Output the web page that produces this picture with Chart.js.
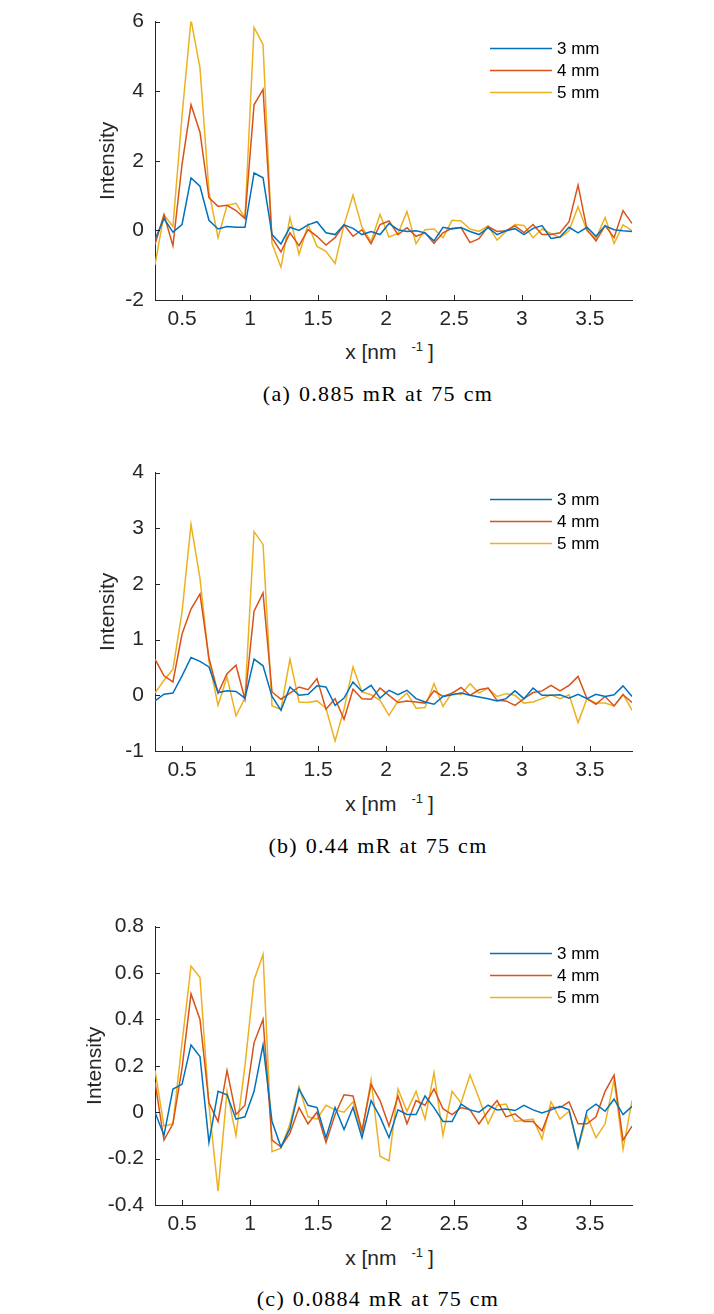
<!DOCTYPE html>
<html>
<head>
<meta charset="utf-8">
<title>Intensity vs x</title>
<script src="https://cdn.jsdelivr.net/npm/chart.js@4.4.1/dist/chart.umd.min.js"></script>
<style>
  html, body { margin: 0; padding: 0; background: #fff; }
  #page { position: relative; width: 714px; height: 1314px; overflow: hidden; }
  .panel { position: absolute; left: 0; width: 714px; height: 330px; }
  .xlab { position: absolute; left: 151px; width: 477px; height: 24px; line-height: 24px; text-align: center;
          font-size: 21px; font-family: "Liberation Sans", Arial, sans-serif; color: #262626; white-space: nowrap; }
  .xlab sup { font-size: 13px; vertical-align: 8px; margin-left: 15px; margin-right: 5px; line-height: 0; }
  .cap { position: absolute; left: 0; width: 756px; height: 26px; line-height: 26px; text-align: center;
         font-size: 22px; font-family: "Liberation Serif", "Times New Roman", serif; color: #000;
         letter-spacing: 1.3px; word-spacing: 1px; white-space: nowrap; }
</style>
</head>
<body>
<div id="page">
  <div class="panel" style="top:-2px"><canvas id="chartA"></canvas></div>
  <div class="xlab" style="top:340px">x [nm<sup>-1</sup>]</div>
  <div class="cap" style="top:381px">(a) 0.885 mR at 75 cm</div>

  <div class="panel" style="top:449px"><canvas id="chartB"></canvas></div>
  <div class="xlab" style="top:792px">x [nm<sup>-1</sup>]</div>
  <div class="cap" style="top:833px">(b) 0.44 mR at 75 cm</div>

  <div class="panel" style="top:903px"><canvas id="chartC"></canvas></div>
  <div class="xlab" style="top:1246px">x [nm<sup>-1</sup>]</div>
  <div class="cap" style="top:1286px">(c) 0.0884 mR at 75 cm</div>
</div>

<script>
// sample positions along x [nm^-1], shared by all three panels
const xValues = [0.300, 0.366, 0.432, 0.499, 0.565, 0.631, 0.697, 0.764, 0.830, 0.896,
  0.962, 1.029, 1.095, 1.161, 1.227, 1.293, 1.360, 1.426, 1.492, 1.558,
  1.625, 1.691, 1.757, 1.823, 1.890, 1.956, 2.022, 2.088, 2.154, 2.221,
  2.287, 2.353, 2.419, 2.486, 2.552, 2.618, 2.684, 2.751, 2.817, 2.883,
  2.949, 3.015, 3.082, 3.148, 3.214, 3.280, 3.347, 3.413, 3.479, 3.545,
  3.612, 3.678, 3.744, 3.810];

const seriesNames = ['3 mm', '4 mm', '5 mm'];
const seriesColors = ['#0072BD', '#D95319', '#EDB120'];
const xTicks = [0.5, 1, 1.5, 2, 2.5, 3, 3.5];

// (a) 0.885 mR
const a3mm = [-0.26, 0.34, -0.05, 0.17, 1.51, 1.27, 0.29, 0.04, 0.11, 0.09,
  0.09, 1.65, 1.51, -0.12, -0.39, 0.09, 0.00, 0.16, 0.25, -0.07,
  -0.12, 0.16, 0.06, -0.12, -0.03, -0.12, 0.20, 0.02, -0.03, -0.01,
  -0.07, -0.30, 0.09, 0.04, 0.08, -0.03, -0.12, 0.08, -0.12, -0.01,
  0.05, -0.12, 0.06, 0.14, -0.23, -0.19, 0.09, -0.07, 0.09, -0.17,
  0.13, 0.02, -0.01, -0.03];
const a4mm = [-0.40, 0.45, -0.44, 1.90, 3.61, 2.82, 0.94, 0.69, 0.72, 0.57,
  0.34, 3.61, 4.05, -0.21, -0.62, -0.07, -0.44, 0.02, -0.17, -0.42,
  -0.21, 0.16, -0.17, 0.02, -0.38, 0.17, 0.27, -0.12, 0.08, -0.17,
  -0.07, -0.37, -0.07, 0.06, 0.08, -0.35, -0.24, 0.11, -0.03, -0.01,
  0.13, -0.06, 0.17, -0.12, -0.12, -0.07, 0.25, 1.30, 0.02, -0.30,
  0.14, -0.21, 0.57, 0.20];
const a5mm = [-0.99, 0.45, 0.11, 3.30, 6.05, 4.67, 1.12, -0.21, 0.72, 0.78,
  0.36, 5.83, 5.34, -0.38, -1.06, 0.37, -0.69, 0.17, -0.46, -0.60,
  -0.95, 0.16, 1.01, 0.09, -0.32, 0.46, -0.19, -0.09, 0.54, -0.38,
  0.02, 0.04, -0.21, 0.29, 0.27, 0.04, -0.03, 0.13, -0.28, -0.03,
  0.17, 0.14, -0.21, 0.04, -0.09, -0.21, -0.01, 0.68, -0.01, -0.23,
  0.37, -0.38, 0.16, -0.01];
const aYTicks = [-2, 0, 2, 4, 6];

// (b) 0.44 mR
const b3mm = [-0.10, 0.02, 0.04, 0.35, 0.68, 0.61, 0.51, 0.05, 0.08, 0.07,
  -0.05, 0.65, 0.53, -0.02, -0.27, 0.15, 0.00, 0.02, 0.17, 0.15,
  -0.18, -0.05, 0.24, 0.07, 0.18, -0.05, 0.09, 0.01, 0.09, -0.06,
  -0.12, -0.16, -0.02, 0.01, 0.04, 0.00, -0.03, -0.06, -0.10, -0.06,
  0.08, -0.06, 0.13, 0.00, 0.00, 0.01, -0.05, 0.02, -0.06, 0.02,
  -0.02, 0.01, 0.17, -0.02];
const b4mm = [0.65, 0.35, 0.24, 1.10, 1.55, 1.82, 0.67, 0.04, 0.39, 0.54,
  -0.07, 1.51, 1.84, 0.06, -0.07, 0.04, 0.15, 0.10, 0.30, -0.25,
  -0.06, -0.43, 0.11, -0.06, -0.07, 0.13, 0.00, -0.13, -0.10, -0.12,
  -0.14, 0.08, -0.02, 0.04, 0.14, 0.00, 0.10, 0.13, -0.09, -0.10,
  -0.18, -0.06, 0.05, 0.08, 0.18, 0.08, 0.18, 0.34, -0.06, -0.16,
  -0.02, -0.19, 0.01, -0.13];
const b5mm = [0.04, 0.27, 0.47, 1.50, 3.07, 2.10, 0.61, -0.18, 0.33, -0.37,
  -0.05, 2.94, 2.71, -0.19, -0.25, 0.65, -0.12, -0.13, -0.10, -0.23,
  -0.82, -0.25, 0.51, 0.06, 0.01, -0.09, -0.36, -0.10, 0.04, -0.23,
  -0.22, 0.21, -0.20, 0.05, 0.01, 0.21, 0.04, 0.13, -0.02, 0.03,
  0.00, -0.14, -0.12, -0.06, 0.01, -0.06, 0.01, -0.49, -0.06, -0.14,
  -0.14, -0.19, 0.02, -0.27];
const bYTicks = [-1, 0, 1, 2, 3, 4];

// (c) 0.0884 mR
const c3mm = [0.00, -0.10, 0.10, 0.12, 0.29, 0.24, -0.13, 0.09, 0.075, -0.03,
  -0.02, 0.09, 0.29, -0.04, -0.15, -0.07, 0.10, 0.03, 0.02, -0.11,
  0.02, -0.075, 0.02, -0.11, 0.05, -0.02, -0.11, 0.01, -0.01, -0.01,
  0.07, 0.02, -0.04, -0.04, 0.035, 0.01, 0.00, 0.03, 0.01, 0.014,
  0.007, 0.03, 0.01, -0.003, 0.01, 0.025, 0.01, -0.15, 0.007, 0.035,
  0.004, 0.056, -0.01, 0.025];
const c4mm = [0.13, -0.12, -0.05, 0.19, 0.51, 0.40, 0.04, -0.04, 0.18, -0.01,
  0.03, 0.30, 0.40, -0.12, -0.15, -0.09, 0.02, -0.05, 0.00, -0.13,
  -0.01, 0.075, 0.07, -0.08, 0.12, 0.05, -0.06, 0.07, -0.05, 0.05,
  0.03, 0.10, 0.015, -0.01, 0.02, 0.01, -0.05, 0.004, 0.05, -0.02,
  -0.007, -0.04, -0.04, -0.08, 0.02, 0.02, 0.045, -0.05, -0.05, -0.02,
  0.09, 0.16, -0.12, -0.06];
const c5mm = [0.18, -0.06, -0.05, 0.30, 0.63, 0.58, 0.03, -0.34, 0.09, -0.10,
  0.20, 0.57, 0.68, -0.17, -0.155, -0.05, 0.11, -0.02, -0.03, 0.03,
  0.01, 0.00, 0.045, -0.09, 0.14, -0.19, -0.21, 0.10, 0.004, 0.09,
  -0.03, 0.17, -0.10, 0.09, 0.04, 0.16, 0.06, -0.05, 0.03, 0.035,
  -0.04, -0.035, -0.03, -0.115, 0.045, -0.03, 0.004, -0.155, -0.016, -0.11,
  -0.05, 0.14, -0.16, 0.05];
const cYTicks = [-0.4, -0.2, 0, 0.2, 0.4, 0.6, 0.8];

const AXIS_COLOR = '#262626';
Chart.defaults.font.family = '"Liberation Sans", Arial, sans-serif';
Chart.defaults.font.size = 21;
Chart.defaults.color = AXIS_COLOR;

// MATLAB style tick marks pointing into the plot
const inwardTicks = {
  id: 'inwardTicks',
  afterDraw(chart) {
    const { ctx, chartArea, scales } = chart;
    ctx.save();
    ctx.strokeStyle = AXIS_COLOR;
    ctx.lineWidth = 1;
    ctx.beginPath();
    scales.x.ticks.forEach(t => {
      const px = Math.round(scales.x.getPixelForValue(t.value)) + 0.5;
      ctx.moveTo(px, chartArea.bottom);
      ctx.lineTo(px, chartArea.bottom - 5);
    });
    scales.y.ticks.forEach(t => {
      const py = Math.round(scales.y.getPixelForValue(t.value)) + 0.5;
      ctx.moveTo(chartArea.left, py);
      ctx.lineTo(chartArea.left + 5, py);
    });
    ctx.stroke();
    ctx.restore();
  }
};

// legend in the upper right corner, inside the axes
const cornerLegend = {
  id: 'cornerLegend',
  afterDatasetsDraw(chart) {
    const { ctx, chartArea } = chart;
    ctx.save();
    ctx.font = '17px "Liberation Sans", Arial, sans-serif';
    ctx.textBaseline = 'middle';
    ctx.textAlign = 'left';
    chart.data.datasets.forEach((ds, k) => {
      const y = Math.round(chartArea.top + 26 + k * 22.2) + 0.5;
      const x0 = chartArea.left + 335;
      ctx.strokeStyle = ds.borderColor;
      ctx.lineWidth = 1.5;
      ctx.beginPath();
      ctx.moveTo(x0, y);
      ctx.lineTo(x0 + 62, y);
      ctx.stroke();
      ctx.fillStyle = '#000';
      ctx.fillText(ds.label, x0 + 67, y + 1);
    });
    ctx.restore();
  }
};

function makePanel(canvasId, values, yTicks, titlePad) {
  const datasets = values.map((ys, k) => ({
    label: seriesNames[k],
    data: xValues.map((x, i) => ({ x: x, y: ys[i] })),
    borderColor: seriesColors[k],
    backgroundColor: seriesColors[k],
    borderWidth: 1.5,
    pointRadius: 0,
    tension: 0,
    fill: false,
  }));

  return new Chart(document.getElementById(canvasId), {
    type: 'line',
    data: { datasets },
    options: {
      responsive: true,
      maintainAspectRatio: false,
      animation: false,
      layout: { padding: { left: 0, right: 82, top: 13, bottom: 0 } },
      plugins: {
        legend: { display: false },
        tooltip: { enabled: false },
      },
      scales: {
        x: {
          type: 'linear',
          min: 0.3,
          max: 3.81,
          grid: { display: false, drawTicks: false },
          border: { display: true, color: AXIS_COLOR, width: 1 },
          ticks: { padding: 7, maxRotation: 0, callback: v => String(v) },
          afterBuildTicks: scale => { scale.ticks = xTicks.map(v => ({ value: v })); },
          afterFit: scale => { scale.height = 28; },
        },
        y: {
          type: 'linear',
          min: yTicks[0],
          max: yTicks[yTicks.length - 1],
          grid: { display: false, drawTicks: false },
          border: { display: true, color: AXIS_COLOR, width: 1 },
          ticks: { padding: 11, callback: v => String(v) },
          afterBuildTicks: scale => { scale.ticks = yTicks.map(v => ({ value: v })); },
          afterFit: scale => { scale.width = 155; },
          title: {
            display: true,
            text: 'Intensity',
            color: AXIS_COLOR,
            font: { size: 21 },
            padding: { top: titlePad, bottom: 0 },
          },
        },
      },
    },
    plugins: [inwardTicks, cornerLegend],
  });
}

makePanel('chartA', [a3mm, a4mm, a5mm], aYTicks, 96);
makePanel('chartB', [b3mm, b4mm, b5mm], bYTicks, 96);
makePanel('chartC', [c3mm, c4mm, c5mm], cYTicks, 83);
</script>
</body>
</html>
